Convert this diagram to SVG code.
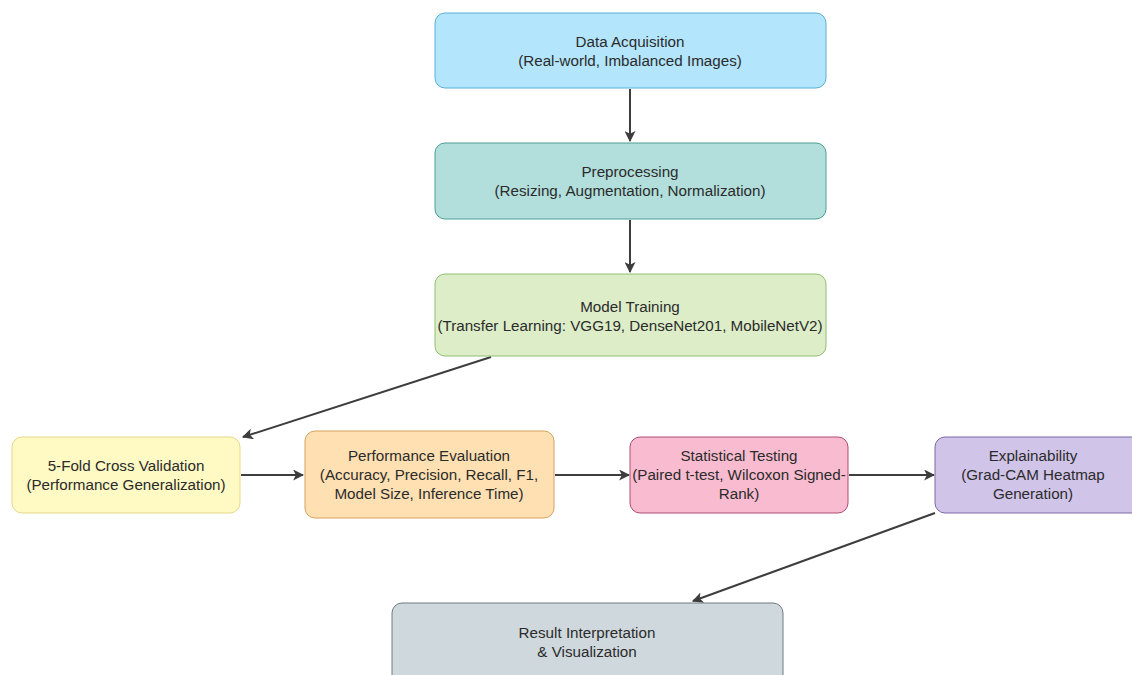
<svg xmlns="http://www.w3.org/2000/svg" width="1132" height="675" viewBox="0 0 1132 675">
<defs>
<marker id="ah" viewBox="0 0 10 10" refX="9" refY="5" markerWidth="11" markerHeight="11" markerUnits="userSpaceOnUse" orient="auto">
<path d="M0,0 L10,5 L0,10 L2.5,5 z" fill="#3d3d3d"/>
</marker>
<style>
.t{font-family:"Liberation Sans",Arial,sans-serif;font-size:15.2px;fill:#2b2b2b;text-anchor:middle}
.c{stroke:#3d3d3d;stroke-width:2;fill:none}
</style>
</defs>
<rect width="1132" height="675" fill="#ffffff"/>
<g id="connectors">
<line class="c" x1="630" y1="89" x2="630" y2="141" marker-end="url(#ah)"/>
<line class="c" x1="630" y1="220" x2="630" y2="272" marker-end="url(#ah)"/>
<line class="c" x1="491" y1="357" x2="243" y2="437" marker-end="url(#ah)"/>
<line class="c" x1="241" y1="475" x2="303" y2="475" marker-end="url(#ah)"/>
<line class="c" x1="555" y1="475" x2="629" y2="475" marker-end="url(#ah)"/>
<line class="c" x1="849" y1="475" x2="934" y2="475" marker-end="url(#ah)"/>
<line class="c" x1="935" y1="513" x2="693" y2="601" marker-end="url(#ah)"/>
</g>
<g id="data-acquisition">
<rect x="435" y="13" width="391" height="75" rx="10" fill="#b3e5fc" stroke="#5aaed6" stroke-width="1"/>
<text class="t" x="630" y="47">Data Acquisition</text>
<text class="t" x="630" y="66">(Real-world, Imbalanced Images)</text>
</g>
<g id="preprocessing">
<rect x="435" y="143" width="391" height="76" rx="10" fill="#b2dfdb" stroke="#4a9e94" stroke-width="1"/>
<text class="t" x="630" y="177">Preprocessing</text>
<text class="t" x="630" y="196">(Resizing, Augmentation, Normalization)</text>
</g>
<g id="model-training">
<rect x="435" y="274" width="391" height="82" rx="10" fill="#dcedc8" stroke="#90bf72" stroke-width="1"/>
<text class="t" x="630" y="312">Model Training</text>
<text class="t" x="630" y="331">(Transfer Learning: VGG19, DenseNet201, MobileNetV2)</text>
</g>
<g id="cross-validation">
<rect x="12" y="437" width="228" height="76" rx="10" fill="#fff9c4" stroke="#e5d98a" stroke-width="1"/>
<text class="t" x="126" y="471">5-Fold Cross Validation</text>
<text class="t" x="126" y="490">(Performance Generalization)</text>
</g>
<g id="performance-evaluation">
<rect x="305" y="431" width="249" height="87" rx="10" fill="#ffe0b2" stroke="#d9a25e" stroke-width="1"/>
<text class="t" x="429" y="461">Performance Evaluation</text>
<text class="t" x="429" y="480">(Accuracy, Precision, Recall, F1,</text>
<text class="t" x="429" y="499">Model Size, Inference Time)</text>
</g>
<g id="statistical-testing">
<rect x="630" y="437" width="218" height="76" rx="10" fill="#f8bbd0" stroke="#b04a72" stroke-width="1"/>
<text class="t" x="739" y="461">Statistical Testing</text>
<text class="t" x="739" y="480">(Paired t-test, Wilcoxon Signed-</text>
<text class="t" x="739" y="499">Rank)</text>
</g>
<g id="explainability">
<rect x="935" y="437" width="210" height="76" rx="10" fill="#d1c4e9" stroke="#7c68a8" stroke-width="1"/>
<text class="t" x="1033" y="461">Explainability</text>
<text class="t" x="1033" y="480">(Grad-CAM Heatmap</text>
<text class="t" x="1033" y="499">Generation)</text>
</g>
<g id="result-interpretation">
<rect x="392" y="603" width="391" height="85" rx="10" fill="#cfd8dc" stroke="#6f7b81" stroke-width="1"/>
<text class="t" x="587" y="638">Result Interpretation</text>
<text class="t" x="587" y="657">&amp; Visualization</text>
</g>
</svg>
